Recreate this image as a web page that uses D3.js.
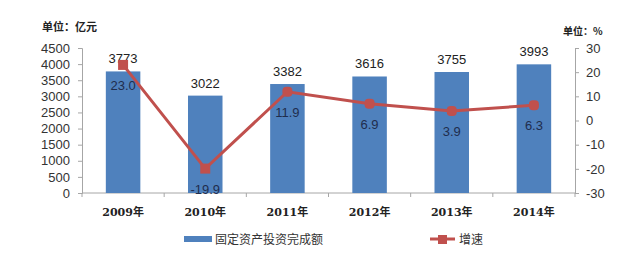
<!DOCTYPE html>
<html>
<head>
<meta charset="utf-8">
<script src="https://cdn.jsdelivr.net/npm/d3@7"></script>
<style>
  body { margin: 0; background: #fff; }
  svg { display: block; }
  .tick text { font-family: "Liberation Sans", "Noto Sans", sans-serif; }
</style>
</head>
<body>
<div id="chart"></div>
<script>
// chart data
var years = ["2009年", "2010年", "2011年", "2012年", "2013年", "2014年"];
var investment = [3773, 3022, 3382, 3616, 3755, 3993];
var growth = [23.0, -19.9, 11.9, 6.9, 3.9, 6.3];
var leftTicks = [0, 500, 1000, 1500, 2000, 2500, 3000, 3500, 4000, 4500];
var rightTicks = [-30, -20, -10, 0, 10, 20, 30];
var barName = "固定资产投资完成额";
var lineName = "增速";

var W = 640, H = 271;
var margin = { top: 48, right: 65, bottom: 78, left: 82 };
var width = W - margin.left - margin.right,
    height = H - margin.top - margin.bottom;

var svg = d3.select("#chart").append("svg")
    .attr("width", W)
    .attr("height", H);

var g = svg.append("g")
    .attr("transform", "translate(" + margin.left + "," + margin.top + ")");

var x = d3.scaleBand().domain(years).range([0, width]).paddingInner(0.58).paddingOuter(0.29);
var y = d3.scaleLinear().domain([0, 4500]).range([height, 0]);
var y2 = d3.scaleLinear().domain([-30, 30]).range([height, 0]);

var axisColor = "#a6a6a6";
var fontFam = "'Liberation Sans', 'Noto Sans', sans-serif";
var plain = function(d) { return String(d); };

// left axis
var yAxis = d3.axisLeft(y).tickValues(leftTicks).tickFormat(plain).tickSize(4).tickPadding(8);
var ga = g.append("g").call(yAxis);
ga.select(".domain").attr("stroke", axisColor);
ga.selectAll(".tick line").attr("stroke", axisColor);
ga.selectAll(".tick text").attr("font-size", 13).attr("fill", "#333");

// right axis
var yAxis2 = d3.axisRight(y2).tickValues(rightTicks).tickFormat(plain).tickSize(4).tickPadding(7);
var gb = g.append("g").attr("transform", "translate(" + width + ",0)").call(yAxis2);
gb.select(".domain").attr("stroke", axisColor);
gb.selectAll(".tick line").attr("stroke", axisColor);
gb.selectAll(".tick text").attr("font-size", 13).attr("fill", "#333");

// x axis, ticks on band boundaries
g.append("line")
    .attr("x1", 0).attr("x2", width)
    .attr("y1", height).attr("y2", height)
    .attr("stroke", axisColor);
g.selectAll(".xtick")
    .data(d3.range(years.length + 1))
    .enter().append("line")
    .attr("x1", function(i) { return i * width / years.length; })
    .attr("x2", function(i) { return i * width / years.length; })
    .attr("y1", height).attr("y2", height + 4)
    .attr("stroke", axisColor);

g.selectAll(".xlabel")
    .data(years)
    .enter().append("text")
    .attr("x", function(d) { return x(d) + x.bandwidth() / 2; })
    .attr("y", height + 23)
    .attr("text-anchor", "middle")
    .attr("font-family", "'DejaVu Serif', 'Noto Sans CJK SC', serif")
    .attr("font-weight", "bold")
    .attr("font-size", 11)
    .attr("fill", "#222")
    .text(function(d) { return d; });

// bars
g.selectAll(".bar")
    .data(investment)
    .enter().append("rect")
    .attr("x", function(d, i) { return x(years[i]); })
    .attr("y", function(d) { return y(d); })
    .attr("width", x.bandwidth())
    .attr("height", function(d) { return height - y(d); })
    .attr("fill", "#4f81bd");

g.selectAll(".barlabel")
    .data(investment)
    .enter().append("text")
    .attr("x", function(d, i) { return x(years[i]) + x.bandwidth() / 2; })
    .attr("y", function(d) { return y(d) - 8; })
    .attr("text-anchor", "middle")
    .attr("font-family", fontFam)
    .attr("font-size", 13)
    .attr("fill", "#222")
    .text(function(d) { return d; });

// growth line
var line = d3.line()
    .x(function(d, i) { return x(years[i]) + x.bandwidth() / 2; })
    .y(function(d) { return y2(d); });

g.append("path")
    .datum(growth)
    .attr("d", line)
    .attr("fill", "none")
    .attr("stroke", "#c0504d")
    .attr("stroke-width", 3);

g.selectAll(".marker")
    .data(growth)
    .enter().append("rect")
    .attr("x", function(d, i) { return x(years[i]) + x.bandwidth() / 2 - 5; })
    .attr("y", function(d) { return y2(d) - 5; })
    .attr("width", 10).attr("height", 10)
    .attr("rx", function(d, i) { return i < 2 ? 0 : 4; })
    .attr("fill", "#c0504d");

g.selectAll(".linelabel")
    .data(growth)
    .enter().append("text")
    .attr("x", function(d, i) { return x(years[i]) + x.bandwidth() / 2; })
    .attr("y", function(d) { return y2(d) + 25; })
    .attr("text-anchor", "middle")
    .attr("font-family", fontFam)
    .attr("font-size", 13)
    .attr("fill", "#1f2d4d")
    .text(function(d) { return d.toFixed(1); });

// unit titles
svg.append("text")
    .attr("x", 42).attr("y", 31)
    .attr("font-family", "'Noto Sans CJK SC', sans-serif")
    .attr("font-weight", "bold")
    .attr("font-size", 11)
    .attr("fill", "#222")
    .text("单位：亿元");

svg.append("text")
    .attr("x", 563).attr("y", 35)
    .attr("font-family", "'Noto Sans CJK SC', sans-serif")
    .attr("font-weight", "bold")
    .attr("font-size", 10)
    .attr("fill", "#222")
    .text("单位：%");

// legend
var leg = svg.append("g");
leg.append("rect")
    .attr("x", 184).attr("y", 236)
    .attr("width", 28).attr("height", 6)
    .attr("fill", "#4f81bd");
leg.append("text")
    .attr("x", 215).attr("y", 244)
    .attr("font-family", "'Noto Sans CJK SC', sans-serif")
    .attr("font-size", 12)
    .attr("fill", "#333")
    .text(barName);

leg.append("line")
    .attr("x1", 430).attr("x2", 455)
    .attr("y1", 239).attr("y2", 239)
    .attr("stroke", "#c0504d")
    .attr("stroke-width", 3);
leg.append("rect")
    .attr("x", 438).attr("y", 235)
    .attr("width", 9).attr("height", 9)
    .attr("fill", "#c0504d");
leg.append("text")
    .attr("x", 459).attr("y", 244)
    .attr("font-family", "'Noto Sans CJK SC', sans-serif")
    .attr("font-size", 12)
    .attr("fill", "#333")
    .text(lineName);
</script>
</body>
</html>
